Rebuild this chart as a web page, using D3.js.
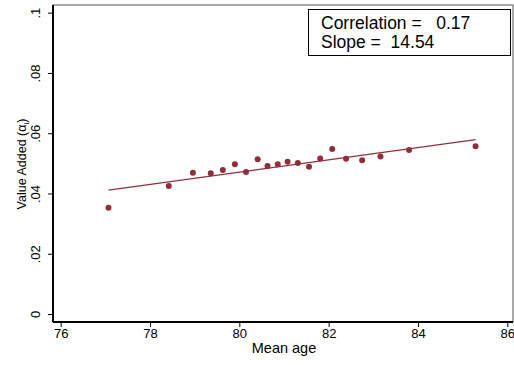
<!DOCTYPE html>
<html>
<head>
<meta charset="utf-8">
<script src="https://cdn.jsdelivr.net/npm/d3@7"></script>
<style>
  body { margin: 0; background: #fff; }
  svg { display: block; font-family: "Liberation Sans", Arial, sans-serif; }
</style>
</head>
<body>
<svg id="chart" width="514" height="365"></svg>
<script>
const meanAge = [77.07, 78.42, 78.96, 79.36, 79.63, 79.90, 80.15, 80.41, 80.63, 80.86,
                 81.08, 81.31, 81.56, 81.81, 82.08, 82.39, 82.75, 83.16, 83.80, 85.29];
const valueAdded = [0.0353, 0.0425, 0.0469, 0.0467, 0.0478, 0.0497, 0.0471, 0.0514, 0.0491, 0.0497,
                    0.0505, 0.0501, 0.0489, 0.0516, 0.0548, 0.0515, 0.0510, 0.0523, 0.0544, 0.0557];
const fitX = [77.07, 85.29];
const fitY = [0.0411, 0.0579];
const xTicks = [76, 78, 80, 82, 84, 86];
const yTicks = [0, 0.02, 0.04, 0.06, 0.08, 0.1];
const yTickLabels = ["0", ".02", ".04", ".06", ".08", ".1"];
const legendLines = ["Correlation =   0.17", "Slope =  14.54"];

const svg = d3.select("#chart");
const red = "#8e2f3b";
const plot = { left: 53, right: 513, top: 5, bottom: 322 };

const x = d3.scaleLinear().domain([76, 86]).range([60.7, 507.3]);
const y = d3.scaleLinear().domain([0, 0.1]).range([314, 12.7]);

// plot region outline
svg.append("rect")
  .attr("x", plot.left).attr("y", plot.top)
  .attr("width", plot.right - plot.left).attr("height", plot.bottom - plot.top)
  .attr("fill", "none").attr("stroke", "#555").attr("stroke-width", 1);

// x axis
const xAxis = svg.append("g")
  .attr("transform", `translate(0,${plot.bottom})`)
  .call(d3.axisBottom(x).tickValues(xTicks).tickFormat(d3.format("d")).tickSize(5).tickPadding(2));
xAxis.select(".domain").attr("d", `M${plot.left},0H${plot.right}`).attr("stroke", "#000").attr("stroke-width", 2);
xAxis.selectAll(".tick line").attr("stroke", "#000");
xAxis.selectAll(".tick text").attr("font-size", 13).attr("fill", "#000")
  .attr("font-family", "Liberation Sans, Arial, sans-serif");

// y axis
const yAxis = svg.append("g")
  .attr("transform", `translate(${plot.left},0)`)
  .call(d3.axisLeft(y).tickValues(yTicks).tickFormat((d, i) => yTickLabels[i]).tickSize(5));
yAxis.select(".domain").attr("d", `M0,${plot.top}V${plot.bottom}`).attr("stroke", "#000").attr("stroke-width", 2);
yAxis.selectAll(".tick line").attr("stroke", "#000");
yAxis.selectAll(".tick text")
  .attr("font-size", 13).attr("fill", "#000")
  .attr("font-family", "Liberation Sans, Arial, sans-serif")
  .attr("text-anchor", "middle")
  .attr("x", null).attr("dy", null)
  .attr("transform", "translate(-13,0) rotate(-90)")
  .attr("y", 0);

// axis titles
svg.append("text")
  .attr("x", 284).attr("y", 353)
  .attr("text-anchor", "middle").attr("font-size", 14.5).attr("fill", "#000")
  .text("Mean age");

const yt = svg.append("text")
  .attr("transform", "translate(26,164) rotate(-90)")
  .attr("text-anchor", "middle").attr("font-size", 12.5).attr("fill", "#000");
yt.append("tspan").text("Value Added (\u03B1");
yt.append("tspan").attr("font-size", 8).attr("dy", 3).text("i");
yt.append("tspan").attr("dy", -3).text(")");

// fit line
svg.append("path")
  .datum(fitX.map((d, i) => [d, fitY[i]]))
  .attr("d", d3.line().x(d => x(d[0])).y(d => y(d[1])))
  .attr("fill", "none").attr("stroke", red).attr("stroke-width", 1.3);

// points
svg.append("g").selectAll("circle")
  .data(meanAge.map((d, i) => [d, valueAdded[i]]))
  .join("circle")
  .attr("cx", d => x(d[0])).attr("cy", d => y(d[1]))
  .attr("r", 3).attr("fill", red);

// legend box
svg.append("rect")
  .attr("x", 308.5).attr("y", 9.5).attr("width", 202).attr("height", 46)
  .attr("fill", "#fff").attr("stroke", "#000").attr("stroke-width", 1);
svg.append("g").selectAll("text")
  .data(legendLines)
  .join("text")
  .attr("x", 321).attr("y", (d, i) => 29 + i * 18.5)
  .attr("font-size", 17.5).attr("fill", "#000")
  .attr("xml:space", "preserve").style("white-space", "pre")
  .text(d => d);
</script>
</body>
</html>
